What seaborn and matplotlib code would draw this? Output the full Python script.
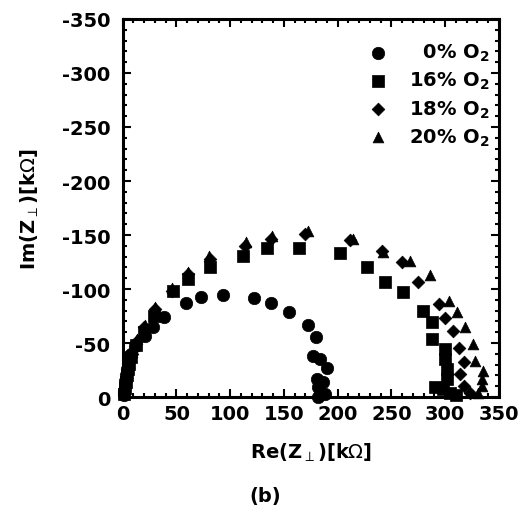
import numpy as np
import pandas as pd
import matplotlib
matplotlib.use("Agg")
import matplotlib.pyplot as plt
import seaborn as sns
from matplotlib.ticker import MultipleLocator

sns.set_theme(style="ticks")
plt.rcParams['font.family'] = ['DejaVu Sans']
plt.rcParams['axes.unicode_minus'] = False
plt.rcParams['mathtext.fontset'] = 'custom'
plt.rcParams['mathtext.rm'] = 'DejaVu Sans:weight=normal'
plt.rcParams['mathtext.bf'] = 'DejaVu Sans:weight=bold'
plt.rcParams['mathtext.it'] = 'DejaVu Sans:weight=bold'
plt.rcParams['mathtext.default'] = 'bf'
for k in ['text.color', 'axes.labelcolor', 'xtick.color', 'ytick.color', 'axes.edgecolor']:
    plt.rcParams[k] = 'black'

labels = ["  0% O$_2$", "16% O$_2$", "18% O$_2$", "20% O$_2$"]

re0 = [1, 1.5, 2, 2.5, 3, 4, 5, 6, 8, 11.5, 20.7, 28.5, 38.4, 58.9, 72.5, 93.6, 122.1, 137.9, 154.4,
       172, 179.5, 177, 183.5, 189.8, 186.6, 180.4, 181.9, 188, 181.9]
im0 = [-2, -6, -10, -15, -20, -26, -31, -36, -40, -47.5, -56.8, -64.5, -73.8, -87, -92.9, -94.7, -91.7,
       -86.7, -78.4, -67, -55.9, -38.3, -35, -26.5, -13.6, -16.7, -9, -2.8, 0]

re16 = [1, 2, 3, 4, 5, 6, 8, 12, 20, 29, 47.1, 61, 81.2, 112.2, 134.5, 164, 202.1, 227, 243.7, 261,
        279.6, 287.4, 287.4, 299.8, 299.8, 301.4, 301.4, 290.5, 298, 304.5, 310]
im16 = [-3, -8, -14, -20, -26, -31, -37, -48, -60, -75, -98.5, -109, -120, -130.9, -137.7, -137.7,
        -133.3, -120, -106.8, -97.5, -79.9, -69.1, -53.7, -44.4, -35.2, -26, -16.7, -9, -7, -3.7, -2]

re18 = [1, 2, 3, 4, 5, 6, 9, 13, 20, 30, 45.6, 61, 81.2, 113.8, 138, 169.6, 211.4, 240.9, 259.5, 275,
        294.5, 299.8, 307.6, 313.1, 317.5, 313.8, 317.5, 323]
im18 = [-4, -9, -15, -21, -27, -33, -40, -52, -65, -81.5, -98.5, -113.9, -127.8, -140.1, -146.3,
        -150.9, -145.7, -135.5, -124.7, -106.2, -86.1, -72.8, -61.4, -45, -32.7, -21.3, -10.5, -3.7]

re20 = [1, 2, 3, 4, 5, 6, 9, 13, 21, 30, 45.6, 61, 80.6, 114.7, 139.2, 172.7, 213.9, 242.4, 267.3,
        285.9, 303.8, 310.7, 318.4, 325.6, 327.7, 335.5, 334, 334, 330.8]
im20 = [-4, -10, -16, -22, -28, -34, -42, -54, -67, -83, -100.6, -115.4, -130.9, -143.2, -148.8,
        -153.4, -146.3, -134, -125.9, -113, -89.2, -78.4, -64.5, -49.1, -33.6, -24.4, -16.7, -10.5, -3.7]

series = [(re0, im0, 'o', 80), (re16, im16, 's', 65), (re18, im18, 'D', 42), (re20, im20, '^', 60)]

fig = plt.figure(figsize=(5.30, 5.06), dpi=100)
ax = fig.add_axes([0.2315, 0.2134, 0.7100, 0.7471])

for (x, y, m, s), lab in zip(series, labels):
    df = pd.DataFrame({"re": x, "im": y})
    sns.scatterplot(data=df, x="re", y="im", marker=m, s=s, color="black",
                    edgecolor="black", linewidth=0.5, ax=ax, label=lab, clip_on=False, zorder=3)

ax.set_xlim(0, 350)
ax.set_ylim(0, -350)
ax.xaxis.set_major_locator(MultipleLocator(50))
ax.xaxis.set_minor_locator(MultipleLocator(10))
ax.yaxis.set_major_locator(MultipleLocator(50))
ax.yaxis.set_minor_locator(MultipleLocator(10))
ax.tick_params(which='both', direction='in', top=True, right=True, width=1.5, colors='black')
ax.tick_params(which='major', length=6, labelsize=14)
ax.tick_params(axis='x', which='major', pad=5)
ax.tick_params(axis='y', which='major', pad=9)
ax.tick_params(which='minor', length=3)
for lbl in ax.get_xticklabels() + ax.get_yticklabels():
    lbl.set_fontweight('bold')
for sp in ax.spines.values():
    sp.set_linewidth(2.2)
    sp.set_color('black')

ax.set_xlabel(r"Re(Z$_{\mathrm{\perp}}$)[k$\mathrm{\Omega}$]", fontsize=14, fontweight='bold', labelpad=13)
ax.set_ylabel(r"Im(Z$_{\mathrm{\perp}}$)[k$\mathrm{\Omega}$]", fontsize=14, fontweight='bold', labelpad=15)
fig.text(0.5, 0.0, "(b)", ha='center', va='bottom', fontsize=14, fontweight='bold')

leg = ax.legend(loc='upper right', bbox_to_anchor=(1.01, 0.975), frameon=False, fontsize=14,
                handletextpad=0.55, labelspacing=0.35, borderaxespad=0.3, markerscale=1.0)
for t in leg.get_texts():
    t.set_fontweight('bold')
    t.set_color('black')

fig.savefig("out.png", dpi=100)
